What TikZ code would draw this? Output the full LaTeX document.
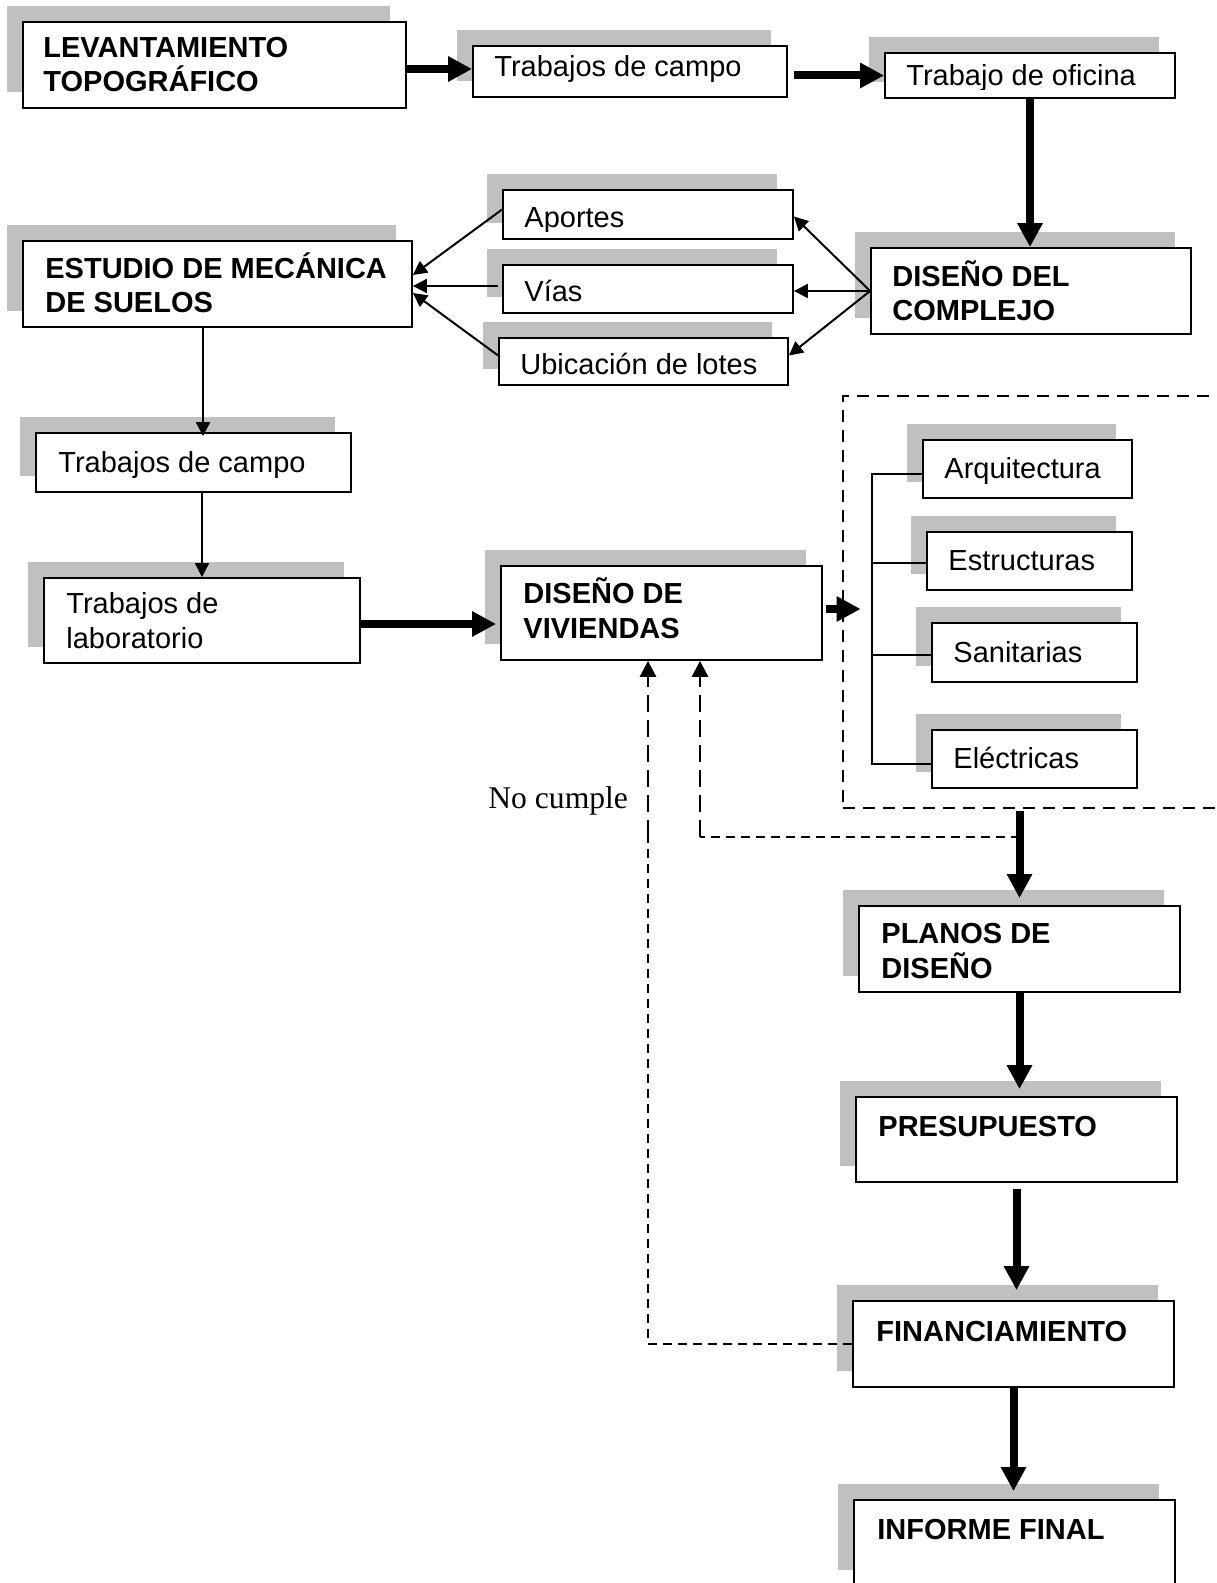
\documentclass[tikz,border=0pt]{standalone}
\usepackage{fontspec}
\setmainfont{Liberation Sans}
\newfontfamily\notefont{Liberation Serif}
\usetikzlibrary{arrows.meta,fit}
\definecolor{shadowgray}{HTML}{C0C0C0}

\tikzset{
  frame/.style={draw=black, line width=0.9pt, fill=white, inner sep=0pt},
  lbl/.style={anchor=base west, inner sep=0pt, align=left,
              font=\fontsize{14.5}{17.25}\selectfont},
  hd/.style={lbl, font=\fontsize{14.5}{17.25}\selectfont\bfseries},
  heavy/.style={line width=4pt, -{Triangle[length=12pt,width=12pt]}},
  light/.style={line width=1pt, -{Triangle[length=7pt,width=7pt]}},
  groupline/.style={line width=1.4pt, dash pattern=on 6pt off 4pt},
  loopline/.style={line width=1.4pt, dash pattern=on 8.5pt off 4pt,
                   -{Triangle[length=8pt,width=8pt]}},
  thindash/.style={line width=0.55pt, dash pattern=on 4.5pt off 3pt},
  tick/.style={line width=0.6pt},
}

% box with a grey offset shadow: name, x1, y1, x2, y2
\newcommand{\panel}[5]{%
  \fill[shadowgray] ({#2-16},{#3-16}) rectangle ({#4-16},{#5-16});
  \node[frame, fit={(#2,#3) (#4,#5)}] (#1) {};
}

\begin{document}
\begin{tikzpicture}[x=0.5pt, y=-0.5pt]
\useasboundingbox (0,0) rectangle (1216,1583);
\clip (0,0) rectangle (1216,1583);

% dashed group of design specialities
\node[groupline, draw, inner sep=0pt, fit={(843,396) (1240,808)}] (grp) {};

% boxes
\panel{lev}{23}{22}{406}{108}
\panel{tca}{473}{46}{787}{97}
\panel{ofi}{885}{53}{1175}{98}
\panel{apo}{503}{190}{793}{239}
\panel{vias}{503}{265}{793}{313}
\panel{ubi}{499}{338}{788}{385}
\panel{ems}{23}{241}{412}{327}
\panel{dco}{871}{248}{1191}{334}
\panel{tcb}{36}{433}{351}{492}
\panel{lab}{44}{578}{360}{663}
\panel{dvi}{501}{566}{822}{660}
\panel{arq}{923}{440}{1132}{498}
\panel{est}{927}{532}{1132}{590}
\panel{san}{932}{623}{1137}{682}
\panel{ele}{932}{730}{1137}{788}
\panel{pla}{859}{906}{1180}{992}
\panel{pre}{856}{1097}{1177}{1182}
\panel{fin}{853}{1301}{1174}{1387}
\panel{inf}{854}{1500}{1175}{1586}

% labels (two-line labels are placed by the baseline of their last line)
\node[hd] (lev-t) at (43,92) {LEVANTAMIENTO\\TOPOGRÁFICO};
\node[lbl] (tca-t) at (494,77) {Trabajos de campo};
\begin{scope}
  \clip (ofi.north west) rectangle ([yshift=4.5pt]ofi.south east);
  \node[lbl] (ofi-t) at (906,86) {Trabajo de oficina};
\end{scope}
\begin{scope}
  \clip (apo.north west) rectangle ([yshift=4pt]apo.south east);
  \node[lbl] (apo-t) at (524,228) {Aportes};
\end{scope}
\node[lbl] (vias-t) at (524,302) {Vías};
\node[lbl] (ubi-t) at (520,374) {Ubicación de lotes};
\node[hd] (ems-t) at (45,313) {ESTUDIO DE MECÁNICA\\DE SUELOS};
\node[hd] (dco-t) at (892,321) {DISEÑO DEL\\COMPLEJO};
\node[lbl] (tcb-t) at (58,472) {Trabajos de campo};
\node[lbl] (lab-t) at (66,648) {Trabajos de\\laboratorio};
\node[hd] (dvi-t) at (523,638) {DISEÑO DE\\VIVIENDAS};
\node[lbl] (arq-t) at (944,478) {Arquitectura};
\node[lbl] (est-t) at (948,570) {Estructuras};
\node[lbl] (san-t) at (953,662) {Sanitarias};
\node[lbl] (ele-t) at (953,768) {Eléctricas};
\node[hd] (pla-t) at (881,978) {PLANOS DE\\DISEÑO};
\node[hd] (pre-t) at (878,1136) {PRESUPUESTO};
\node[hd] (fin-t) at (876,1341) {FINANCIAMIENTO};
\node[hd] (inf-t) at (877,1539) {INFORME FINAL};
\node[anchor=base west, inner sep=0pt, font=\notefont\fontsize{15.8}{18}\selectfont]
  (nocumple) at (488,808) {No cumple};

% top row
\draw[heavy] ([yshift=-2pt]lev.east) -- ([yshift=-2pt]lev.east -| tca.west);
\draw[heavy] ([xshift=3pt]tca.east |- ofi.west) -- (ofi.west);
\draw[heavy] (ofi.south) -- (ofi.south |- dco.north);

% complex design to its parts, parts to soil study
\draw[light] (dco.west) -- ([yshift=-1pt]apo.east);
\draw[light] (dco.west) -- (vias.east |- dco.west);
\draw[light] (dco.west) -- ([yshift=3pt]ubi.east);
\draw[light] ([yshift=2.5pt]apo.west) -- ([yshift=4.5pt]ems.east);
\draw[light] ([yshift=1.5pt,xshift=-2pt]vias.west) -- ([yshift=1.5pt]vias.west -| ems.east);
\draw[light] ([yshift=3pt]ubi.west) -- ([yshift=-4.5pt]ems.east);

% soil study chain
\draw[light] ([xshift=4.75pt]tcb.north |- ems.south) -- ([xshift=4.75pt,yshift=-2pt]tcb.north);
\draw[light] (tcb.south -| lab.north) -- (lab.north);
\draw[heavy] ([yshift=-1.75pt]lab.east) -- ([yshift=-1.75pt,xshift=-2pt]lab.east -| dvi.west);
\draw[heavy] ([xshift=1.5pt,yshift=2pt]dvi.east) -- ([xshift=9.5pt,yshift=2pt]dvi.east -| grp.west);

% bracket joining the specialities
\coordinate (bx) at (872,0);
\draw[tick] ([yshift=-2.5pt]arq.west) -- ([yshift=-2.5pt]arq.west -| bx)
            -- ([yshift=-2.5pt]ele.west -| bx) -- ([yshift=-2.5pt]ele.west);
\draw[tick] ([yshift=-1pt]est.west) -- ([yshift=-1pt]est.west -| bx);
\draw[tick] ([yshift=-1.25pt]san.west) -- ([yshift=-1.25pt]san.west -| bx);

% vertical sequence
\draw[heavy] ([yshift=-1pt]grp.south -| pla.north) -- ([yshift=3.5pt]pla.north);
\draw[heavy] (pla.south) -- ([yshift=3.5pt]pla.south |- pre.north);
\draw[heavy] ([yshift=-3pt]pre.south) -- ([yshift=5pt]pre.south |- fin.north);
\draw[heavy] (fin.south) -- ([yshift=4pt]fin.south |- inf.north);

% feedback loops
\coordinate (retL) at (648,837);
\coordinate (retR) at (700,837);
\draw[thindash] (fin.west) -| (retL);
\draw[loopline] (retL) -- (retL |- dvi.south);
\draw[thindash] (retR -| pla.north) -- (retR);
\draw[loopline] (retR) -- (retR |- dvi.south);
\end{tikzpicture}
\end{document}
